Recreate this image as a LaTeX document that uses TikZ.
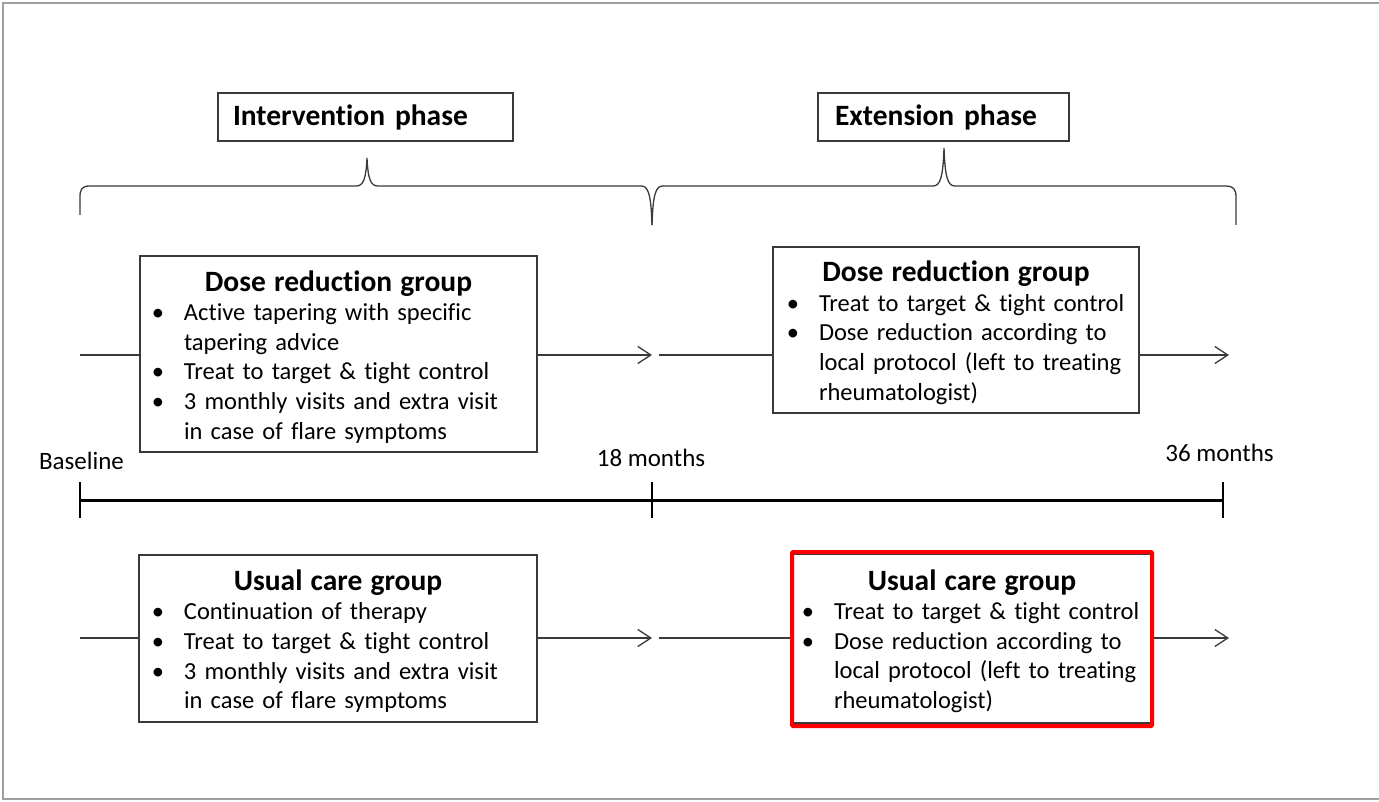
\documentclass[tikz,border=0pt]{standalone}
\usepackage{fontspec}
\setmainfont{Carlito}[Ligatures=NoCommon]
\usetikzlibrary{arrows.meta}
\definecolor{boxc}{HTML}{3A3A3A}
\definecolor{framec}{HTML}{A0A0A0}
\definecolor{hired}{HTML}{FF0000}
\newlength\bindent
\setlength\bindent{44pt}
\newcommand\grptitle[1]{{\centering\fontsize{29.5}{30}\selectfont\bfseries\rule{0pt}{26pt}\smash{#1}\par}}
\newcommand\bitem[1]{{\raggedright\leftskip=\bindent\relax\noindent\llap{\makebox[0pt][c]{\textbullet}\hspace{26pt}}#1\par}}
\tikzset{
  grpbox/.style={draw=boxc, line width=1.3pt, inner sep=0pt, font=\fontsize{24.5}{29.6}\selectfont},
  phasebox/.style={draw=boxc, line width=1.3pt, inner ysep=0pt, minimum height=48pt, align=left, font=\fontsize{29.5}{32}\selectfont\bfseries},
  conn/.style={draw=boxc, line width=1.3pt},
  arr/.style={conn, -{Straight Barb[length=13pt,width=17pt,line width=1.3pt]}},
  brace/.style={draw=boxc, line width=1.3pt},
  lbl/.style={font=\fontsize{25}{30}\selectfont, inner sep=0pt},
  tick/.style={draw=black, line width=1.3pt}
}
\begin{document}
\begin{tikzpicture}[x=1pt,y=-1pt]
\useasboundingbox (0,0) rectangle (1379,802);
\fill[white] (0,0) rectangle (1379,802);
\draw[framec, line width=2pt] (3,3) rectangle (1385,799);

% phase boxes
\node[phasebox, inner xsep=15pt, text width=265pt] (ip) at (365.5,117) {Intervention phase};
\node[phasebox, inner xsep=17pt, text width=217pt] (ep) at (943.5,117) {Extension phase};

% braces
\draw[brace] (80,215) -- (80,197) .. controls (80,189) and (82,186) .. (90,186) -- (356,186)
  .. controls (363,186) and (366,180) .. (367,158)
  .. controls (368,180) and (371,186) .. (378,186) -- (641,186)
  .. controls (648,186) and (651,193) .. (652,225);
\draw[brace] (652,225) .. controls (653,193) and (656,186) .. (663,186) -- (933,186)
  .. controls (940,186) and (943,178) .. (944,148)
  .. controls (945,178) and (948,186) .. (955,186) -- (1226,186)
  .. controls (1233,186) and (1236,189) .. (1236,197) -- (1236,225);

% group boxes
\setlength\bindent{44pt}
\node[grpbox, text width=397pt, minimum height=196pt] (drA) at (338.5,354) {%
  \grptitle{Dose reduction group}%
  \bitem{Active tapering with specific\\tapering advice}%
  \bitem{Treat to target \& tight control}%
  \bitem{3 monthly visits and extra visit\\in case of flare symptoms}};
\setlength\bindent{46pt}
\node[grpbox, text width=366pt, minimum height=166pt] (drB) at (956,330) {%
  \grptitle{Dose reduction group}%
  \bitem{Treat to target \& tight control}%
  \bitem{Dose reduction according to\\local protocol (left to treating\\rheumatologist)}};
\setlength\bindent{45pt}
\node[grpbox, text width=398pt, minimum height=167pt] (ucA) at (338,638.5) {%
  \grptitle{Usual care group}%
  \bitem{Continuation of therapy}%
  \bitem{Treat to target \& tight control}%
  \bitem{3 monthly visits and extra visit\\in case of flare symptoms}};
\setlength\bindent{41pt}
\node[grpbox, text width=358pt, minimum height=169pt] (ucB) at (972,638.5) {%
  \grptitle{Usual care group}%
  \bitem{Treat to target \& tight control}%
  \bitem{Dose reduction according to\\local protocol (left to treating\\rheumatologist)}};
\node[draw=hired, line width=4pt, rounded corners=1pt, minimum width=360pt, minimum height=174pt, inner sep=0pt] (hl) at (972,639) {};

% connectors
\coordinate (s1) at (80,355);
\coordinate (m1) at (652,355);
\coordinate (m1b) at (659,355);
\coordinate (e1) at (1229,355);
\coordinate (s2) at (80,638);
\coordinate (m2) at (652,638);
\coordinate (m2b) at (659,638);
\coordinate (e2) at (1229,638);
\draw[conn] (s1) -- (s1 -| drA.west);
\draw[arr] (drA.east |- s1) -- (m1);
\draw[conn] (m1b) -- (m1b -| drB.west);
\draw[arr] (drB.east |- e1) -- (e1);
\draw[conn] (s2) -- (s2 -| ucA.west);
\draw[arr] (ucA.east |- s2) -- (m2);
\draw[conn] (m2b) -- (m2b -| hl.west);
\draw[arr] (hl.east |- e2) -- (e2);

% timeline
\coordinate (t0) at (80,500);
\coordinate (t1) at (652,500);
\coordinate (t2) at (1223,500);
\draw[black, line width=3pt] (t0) -- (t2);
\draw[tick] (80,482) -- (80,518);
\draw[tick] (652,482) -- (652,518);
\draw[tick] (1223,482) -- (1223,518);
\node[lbl] (bl) at (81.5,461) {Baseline};
\node[lbl] (m18) at (651,458) {18 months};
\node[lbl] (m36) at (1219.5,453) {36 months};
\end{tikzpicture}
\end{document}
